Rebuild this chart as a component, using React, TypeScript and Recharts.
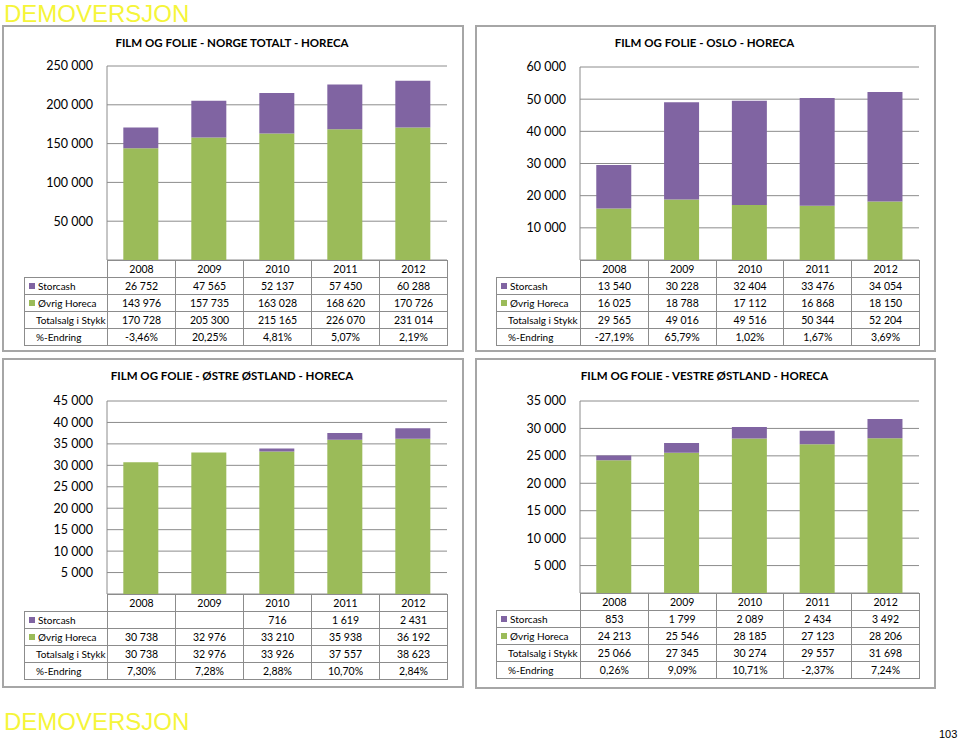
import { BarChart, Bar, XAxis, YAxis, CartesianGrid } from 'recharts'

const YEARS = ['2008', '2009', '2010', '2011', '2012']

const NORGE_STORCASH = [26752, 47565, 52137, 57450, 60288]
const NORGE_OVRIG = [143976, 157735, 163028, 168620, 170726]
const NORGE_TOTAL = [170728, 205300, 215165, 226070, 231014]
const NORGE_PCT = ['-3,46%', '20,25%', '4,81%', '5,07%', '2,19%']
const NORGE_TICKS = [50000, 100000, 150000, 200000, 250000]

const OSLO_STORCASH = [13540, 30228, 32404, 33476, 34054]
const OSLO_OVRIG = [16025, 18788, 17112, 16868, 18150]
const OSLO_TOTAL = [29565, 49016, 49516, 50344, 52204]
const OSLO_PCT = ['-27,19%', '65,79%', '1,02%', '1,67%', '3,69%']
const OSLO_TICKS = [10000, 20000, 30000, 40000, 50000, 60000]

const OSTRE_STORCASH = [null, null, 716, 1619, 2431]
const OSTRE_OVRIG = [30738, 32976, 33210, 35938, 36192]
const OSTRE_TOTAL = [30738, 32976, 33926, 37557, 38623]
const OSTRE_PCT = ['7,30%', '7,28%', '2,88%', '10,70%', '2,84%']
const OSTRE_TICKS = [5000, 10000, 15000, 20000, 25000, 30000, 35000, 40000, 45000]

const VESTRE_STORCASH = [853, 1799, 2089, 2434, 3492]
const VESTRE_OVRIG = [24213, 25546, 28185, 27123, 28206]
const VESTRE_TOTAL = [25066, 27345, 30274, 29557, 31698]
const VESTRE_PCT = ['0,26%', '9,09%', '10,71%', '-2,37%', '7,24%']
const VESTRE_TICKS = [5000, 10000, 15000, 20000, 25000, 30000, 35000]

const PURPLE = '#8064A2'
const GREEN = '#9BBB59'
const LINE = '#8c8c8c'
const FONT = 'Lato, "Noto Sans", sans-serif'

const fmt = (v: number | null) =>
  v == null ? '' : String(v).replace(/\B(?=(\d{3})+(?!\d))/g, ' ')

type Box = { left: number; top: number; right: number; bottom: number }

type PanelProps = {
  title: string
  box: Box
  plot: Box
  tableLeft: number
  storcash: (number | null)[]
  ovrig: number[]
  total: number[]
  pct: string[]
  ticks: number[]
}

function Panel({ title, box, plot, tableLeft, storcash, ovrig, total, pct, ticks }: PanelProps) {
  const data = YEARS.map((y, i) => ({ year: y, storcash: storcash[i], ovrig: ovrig[i] }))
  const w = box.right - box.left
  const h = plot.bottom - box.top
  const colW = (plot.right - plot.left) / YEARS.length
  const labelW = plot.left - tableLeft
  const rowH = 16

  const cell = (extra: any = {}) => ({
    border: `1px solid ${LINE}`,
    height: rowH,
    lineHeight: `${rowH}px`,
    padding: 0,
    textAlign: 'center' as const,
    whiteSpace: 'nowrap' as const,
    boxSizing: 'border-box' as const,
    ...extra,
  })

  const rows: { label: string; key?: string; values: string[] }[] = [
    { label: 'Storcash', key: PURPLE, values: storcash.map(fmt) },
    { label: 'Øvrig Horeca', key: GREEN, values: ovrig.map(fmt) },
    { label: 'Totalsalg i Stykk', values: total.map(fmt) },
    { label: '%-Endring', values: pct },
  ]

  return (
    <>
      <div
        style={{
          position: 'absolute', left: box.left, top: box.top,
          width: w - 2, height: box.bottom - box.top - 2,
          border: '2px solid #a6a6a6', boxSizing: 'content-box',
        }}
      />
      <div
        style={{
          position: 'absolute', left: box.left, top: box.top + 11, width: w,
          textAlign: 'center', fontFamily: FONT, fontWeight: 700, fontSize: 11.5, color: '#000',
        }}
      >
        {title}
      </div>
      <div style={{ position: 'absolute', left: box.left, top: box.top }}>
        <BarChart
          width={w}
          height={h}
          data={data}
          margin={{ top: plot.top - box.top, right: box.right - plot.right, bottom: 0, left: 0 }}
          barCategoryGap="24%"
        >
          <CartesianGrid vertical={false} stroke={LINE} />
          <XAxis dataKey="year" hide />
          <YAxis
            width={plot.left - box.left}
            domain={[0, ticks[ticks.length - 1]]}
            ticks={ticks}
            interval={0}
            tickFormatter={fmt}
            tickLine={false}
            tickMargin={8}
            axisLine={{ stroke: LINE }}
            tick={{ fontSize: 12.5, fill: '#000', fontFamily: FONT }}
          />
          <Bar dataKey="ovrig" stackId="a" fill={GREEN} isAnimationActive={false} />
          <Bar dataKey="storcash" stackId="a" fill={PURPLE} isAnimationActive={false} />
        </BarChart>
      </div>
      <table
        style={{
          position: 'absolute', left: tableLeft, top: plot.bottom,
          width: plot.right - tableLeft + 1, borderCollapse: 'collapse', tableLayout: 'fixed',
          fontFamily: FONT, fontSize: 10.5, color: '#000',
        }}
      >
        <colgroup>
          <col style={{ width: labelW }} />
          {YEARS.map(y => <col key={y} style={{ width: colW }} />)}
        </colgroup>
        <tbody>
          <tr style={{ height: rowH }}>
            <td style={{ height: rowH, padding: 0, border: 'none' }} />
            {YEARS.map(y => <td key={y} style={cell()}>{y}</td>)}
          </tr>
          {rows.map(r => (
            <tr key={r.label} style={{ height: rowH }}>
              <td style={cell({ textAlign: 'left', paddingLeft: r.key ? 4 : 11, fontSize: 10 })}>
                {r.key && (
                  <span
                    style={{
                      display: 'inline-block', width: 6, height: 6, background: r.key,
                      marginRight: 3, verticalAlign: 'middle', position: 'relative', top: -1,
                    }}
                  />
                )}
                {r.label}
              </td>
              {r.values.map((v, i) => <td key={i} style={cell()}>{v}</td>)}
            </tr>
          ))}
        </tbody>
      </table>
    </>
  )
}

export default function App() {
  return (
    <div style={{ position: 'absolute', left: 0, top: 0, width: 960, height: 741, background: '#fff', overflow: 'hidden' }}>
      <div style={{ position: 'absolute', left: 4, top: 0, fontFamily: '"Liberation Sans", Arial, sans-serif', fontSize: 24, color: '#F5F53A' }}>
        DEMOVERSJON
      </div>
      <Panel
        title="FILM OG FOLIE - NORGE TOTALT - HORECA"
        box={{ left: 2, top: 25, right: 462, bottom: 350 }}
        plot={{ left: 107, top: 66, right: 447, bottom: 260 }}
        tableLeft={24}
        storcash={NORGE_STORCASH}
        ovrig={NORGE_OVRIG}
        total={NORGE_TOTAL}
        pct={NORGE_PCT}
        ticks={NORGE_TICKS}
      />
      <Panel
        title="FILM OG FOLIE - OSLO - HORECA"
        box={{ left: 475, top: 25, right: 934, bottom: 350 }}
        plot={{ left: 580, top: 67, right: 919, bottom: 260 }}
        tableLeft={496}
        storcash={OSLO_STORCASH}
        ovrig={OSLO_OVRIG}
        total={OSLO_TOTAL}
        pct={OSLO_PCT}
        ticks={OSLO_TICKS}
      />
      <Panel
        title="FILM OG FOLIE - ØSTRE ØSTLAND - HORECA"
        box={{ left: 2, top: 358, right: 462, bottom: 686 }}
        plot={{ left: 107, top: 401, right: 447, bottom: 594 }}
        tableLeft={24}
        storcash={OSTRE_STORCASH}
        ovrig={OSTRE_OVRIG}
        total={OSTRE_TOTAL}
        pct={OSTRE_PCT}
        ticks={OSTRE_TICKS}
      />
      <Panel
        title="FILM OG FOLIE - VESTRE ØSTLAND - HORECA"
        box={{ left: 475, top: 358, right: 934, bottom: 687 }}
        plot={{ left: 580, top: 401, right: 919, bottom: 593 }}
        tableLeft={496}
        storcash={VESTRE_STORCASH}
        ovrig={VESTRE_OVRIG}
        total={VESTRE_TOTAL}
        pct={VESTRE_PCT}
        ticks={VESTRE_TICKS}
      />
      <div style={{ position: 'absolute', left: 4, top: 708, fontFamily: '"Liberation Sans", Arial, sans-serif', fontSize: 24, color: '#F5F53A' }}>
        DEMOVERSJON
      </div>
      <div style={{ position: 'absolute', left: 939, top: 728, fontFamily: '"Liberation Sans", Arial, sans-serif', fontSize: 11, color: '#000' }}>
        103
      </div>
    </div>
  )
}
